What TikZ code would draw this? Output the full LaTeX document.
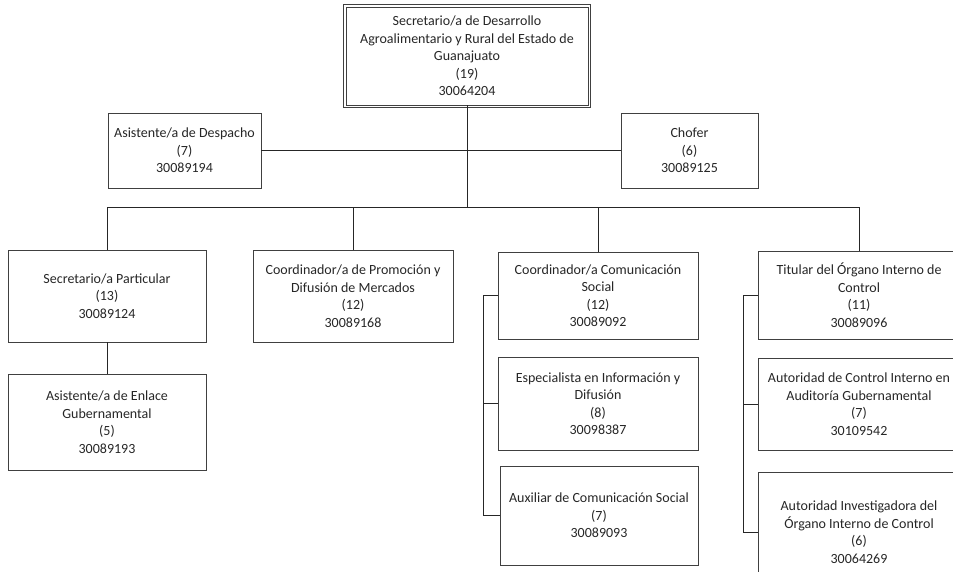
\documentclass[tikz,border=0pt]{standalone}
\usepackage{fontspec}
\setmainfont{Carlito}

\begin{document}
\begin{tikzpicture}[x=1pt,y=-1pt,
  puesto/.style={draw=black!75,line width=0.7pt,align=center,inner sep=0pt,text=black!85,font=\fontsize{14}{17.5}\selectfont},
  linea/.style={draw=black!85,line width=1pt}]
\useasboundingbox (0,0) rectangle (953,572);
\clip (0,0) rectangle (953,572);
\node[puesto,minimum width=242pt,minimum height=98pt] (secretario) at (467,56) {Secretario/a de Desarrollo\\Agroalimentario y Rural del Estado de\\Guanajuato\\(19)\\30064204};
\draw[draw=black!75,line width=0.7pt] ([xshift=-2pt,yshift=2pt]secretario.north west) rectangle ([xshift=2pt,yshift=-2pt]secretario.south east);
\node[puesto,minimum width=153pt,minimum height=75pt] (despacho) at (184.5,150.5) {Asistente/a de Despacho\\(7)\\30089194};
\node[puesto,minimum width=137pt,minimum height=75pt] (chofer) at (689.5,150.5) {Chofer\\(6)\\30089125};
\node[puesto,minimum width=198pt,minimum height=92pt] (particular) at (107,296) {Secretario/a Particular\\(13)\\30089124};
\node[puesto,minimum width=198pt,minimum height=96pt] (enlace) at (107,422) {Asistente/a de Enlace\\Gubernamental\\(5)\\30089193};
\node[puesto,minimum width=200pt,minimum height=92pt] (promocion) at (353,296) {Coordinador/a de Promoción y\\Difusión de Mercados\\(12)\\30089168};
\node[puesto,minimum width=200pt,minimum height=87pt] (comunicacion) at (598,295.5) {Coordinador/a Comunicación\\Social\\(12)\\30089092};
\node[puesto,minimum width=200pt,minimum height=93pt] (especialista) at (598,403.5) {Especialista en Información y\\Difusión\\(8)\\30098387};
\node[puesto,minimum width=198pt,minimum height=99pt] (auxiliar) at (599,515.5) {Auxiliar de Comunicación Social\\(7)\\30089093};
\node[puesto,minimum width=202pt,minimum height=88pt] (titular) at (859,295) {Titular del Órgano Interno de\\Control\\(11)\\30089096};
\node[puesto,minimum width=202pt,minimum height=92pt] (control) at (859,404) {Autoridad de Control Interno en\\Auditoría Gubernamental\\(7)\\30109542};
\node[puesto,minimum width=202pt,minimum height=120pt] (investigadora) at (859,532) {Autoridad Investigadora del\\Órgano Interno de Control\\(6)\\30064269};
\coordinate (barra) at (0,208);
\coordinate (cs) at (483,0);
\coordinate (oic) at (743,0);
\draw[linea] (secretario.south) -- (secretario.south |- barra);
\draw[linea] (despacho.east) -- (chofer.west);
\draw[linea] (particular.north) -- (particular.north |- barra) -- (titular.north |- barra) -- (titular.north);
\draw[linea] (promocion.north) -- (promocion.north |- barra);
\draw[linea] (comunicacion.north) -- (comunicacion.north |- barra);
\draw[linea] (particular.south) -- (enlace.north);
\draw[linea] (comunicacion.west) -- (comunicacion.west -| cs) -- (auxiliar.west -| cs) -- (auxiliar.west);
\draw[linea] (especialista.west) -- (especialista.west -| cs);
\draw[linea] (titular.west) -- (titular.west -| oic) -- (investigadora.west -| oic) -- (investigadora.west);
\draw[linea] (control.west) -- (control.west -| oic);
\end{tikzpicture}
\end{document}
